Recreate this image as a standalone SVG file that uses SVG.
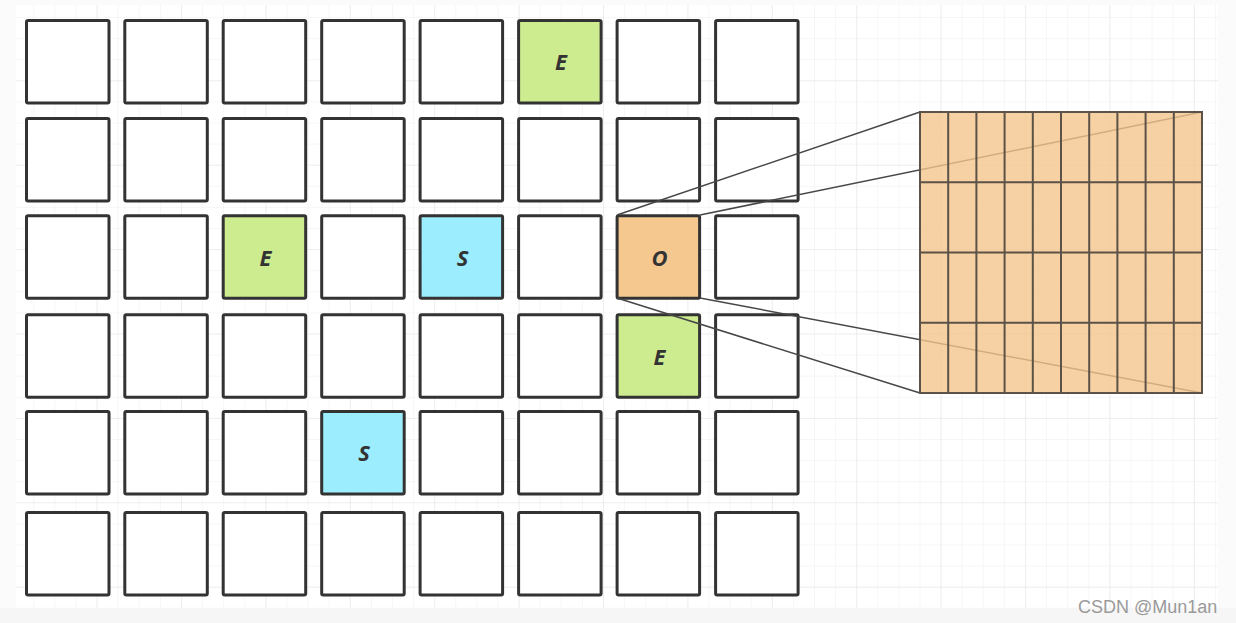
<svg xmlns="http://www.w3.org/2000/svg" width="1236" height="623" viewBox="0 0 1236 623">
  <defs>
    <pattern id="minor" x="12.2" y="-4.1" width="21.1" height="21.1" patternUnits="userSpaceOnUse">
      <path d="M 21.1 0 L 0 0 0 21.1" fill="none" stroke="#eeeeee" stroke-width="1"/>
    </pattern>
    <pattern id="major" x="12.2" y="-4.1" width="84.4" height="84.4" patternUnits="userSpaceOnUse">
      <path d="M 84.4 0 L 0 0 0 84.4" fill="none" stroke="#e6e6e6" stroke-width="1"/>
    </pattern>
  </defs>
  <style>
    .cell { fill: #ffffff; stroke: #333333; stroke-width: 3; }
    .green { fill: #cdeb8f; }
    .blue { fill: #9cedfd; }
    .orange { fill: #f5c890; }
    .lbl { font-family: "Open Sans", "DejaVu Sans", sans-serif; font-weight: bold; font-style: italic; font-size: 22px; fill: #333333; text-anchor: middle; }
    .conn { stroke: #474747; stroke-width: 1.5; fill: none; }
    .zgrid { stroke: #5c5247; stroke-width: 2; fill: none; }
    .wm { font-family: "Liberation Sans", Arial, sans-serif; font-size: 18px; fill: #9a9a9a; }
  </style>

  <!-- background -->
  <rect x="0" y="0" width="1236" height="623" fill="#fbfbfb"/>
  <rect x="0" y="608" width="1236" height="15" fill="#f6f6f6"/>
  <rect x="16" y="5" width="1202" height="603" fill="#ffffff"/>
  <rect x="16" y="5" width="1202" height="603" fill="url(#minor)"/>
  <rect x="16" y="5" width="1202" height="603" fill="url(#major)"/>

  <!-- row 0 -->
  <g id="r0c0"><rect class="cell" x="26.5" y="20.5" width="82.5" height="82.5" rx="1.5"/></g>
  <g id="r0c1"><rect class="cell" x="124.8" y="20.5" width="82.5" height="82.5" rx="1.5"/></g>
  <g id="r0c2"><rect class="cell" x="223.2" y="20.5" width="82.5" height="82.5" rx="1.5"/></g>
  <g id="r0c3"><rect class="cell" x="321.7" y="20.5" width="82.5" height="82.5" rx="1.5"/></g>
  <g id="r0c4"><rect class="cell" x="420.1" y="20.5" width="82.5" height="82.5" rx="1.5"/></g>
  <g id="r0c5"><rect class="cell green" x="518.6" y="20.5" width="82.5" height="82.5" rx="1.5"/><text class="lbl" x="561" y="70">E</text></g>
  <g id="r0c6"><rect class="cell" x="617.1" y="20.5" width="82.5" height="82.5" rx="1.5"/></g>
  <g id="r0c7"><rect class="cell" x="715.6" y="20.5" width="82.5" height="82.5" rx="1.5"/></g>

  <!-- row 1 -->
  <g id="r1c0"><rect class="cell" x="26.5" y="118.5" width="82.5" height="82.5" rx="1.5"/></g>
  <g id="r1c1"><rect class="cell" x="124.8" y="118.5" width="82.5" height="82.5" rx="1.5"/></g>
  <g id="r1c2"><rect class="cell" x="223.2" y="118.5" width="82.5" height="82.5" rx="1.5"/></g>
  <g id="r1c3"><rect class="cell" x="321.7" y="118.5" width="82.5" height="82.5" rx="1.5"/></g>
  <g id="r1c4"><rect class="cell" x="420.1" y="118.5" width="82.5" height="82.5" rx="1.5"/></g>
  <g id="r1c5"><rect class="cell" x="518.6" y="118.5" width="82.5" height="82.5" rx="1.5"/></g>
  <g id="r1c6"><rect class="cell" x="617.1" y="118.5" width="82.5" height="82.5" rx="1.5"/></g>
  <g id="r1c7"><rect class="cell" x="715.6" y="118.5" width="82.5" height="82.5" rx="1.5"/></g>

  <!-- row 2 -->
  <g id="r2c0"><rect class="cell" x="26.5" y="215.8" width="82.5" height="82.5" rx="1.5"/></g>
  <g id="r2c1"><rect class="cell" x="124.8" y="215.8" width="82.5" height="82.5" rx="1.5"/></g>
  <g id="r2c2"><rect class="cell green" x="223.2" y="215.8" width="82.5" height="82.5" rx="1.5"/><text class="lbl" x="265.5" y="265.5">E</text></g>
  <g id="r2c3"><rect class="cell" x="321.7" y="215.8" width="82.5" height="82.5" rx="1.5"/></g>
  <g id="r2c4"><rect class="cell blue" x="420.1" y="215.8" width="82.5" height="82.5" rx="1.5"/><text class="lbl" x="462.5" y="265.5">S</text></g>
  <g id="r2c5"><rect class="cell" x="518.6" y="215.8" width="82.5" height="82.5" rx="1.5"/></g>
  <g id="r2c6"><rect class="cell orange" x="617.1" y="215.8" width="82.5" height="82.5" rx="1.5"/><text class="lbl" x="659.5" y="265.5">O</text></g>
  <g id="r2c7"><rect class="cell" x="715.6" y="215.8" width="82.5" height="82.5" rx="1.5"/></g>

  <!-- row 3 -->
  <g id="r3c0"><rect class="cell" x="26.5" y="314.8" width="82.5" height="82.5" rx="1.5"/></g>
  <g id="r3c1"><rect class="cell" x="124.8" y="314.8" width="82.5" height="82.5" rx="1.5"/></g>
  <g id="r3c2"><rect class="cell" x="223.2" y="314.8" width="82.5" height="82.5" rx="1.5"/></g>
  <g id="r3c3"><rect class="cell" x="321.7" y="314.8" width="82.5" height="82.5" rx="1.5"/></g>
  <g id="r3c4"><rect class="cell" x="420.1" y="314.8" width="82.5" height="82.5" rx="1.5"/></g>
  <g id="r3c5"><rect class="cell" x="518.6" y="314.8" width="82.5" height="82.5" rx="1.5"/></g>
  <g id="r3c6"><rect class="cell green" x="617.1" y="314.8" width="82.5" height="82.5" rx="1.5"/><text class="lbl" x="659.5" y="364.5">E</text></g>
  <g id="r3c7"><rect class="cell" x="715.6" y="314.8" width="82.5" height="82.5" rx="1.5"/></g>

  <!-- row 4 -->
  <g id="r4c0"><rect class="cell" x="26.5" y="411.5" width="82.5" height="82.5" rx="1.5"/></g>
  <g id="r4c1"><rect class="cell" x="124.8" y="411.5" width="82.5" height="82.5" rx="1.5"/></g>
  <g id="r4c2"><rect class="cell" x="223.2" y="411.5" width="82.5" height="82.5" rx="1.5"/></g>
  <g id="r4c3"><rect class="cell blue" x="321.7" y="411.5" width="82.5" height="82.5" rx="1.5"/><text class="lbl" x="364" y="461.2">S</text></g>
  <g id="r4c4"><rect class="cell" x="420.1" y="411.5" width="82.5" height="82.5" rx="1.5"/></g>
  <g id="r4c5"><rect class="cell" x="518.6" y="411.5" width="82.5" height="82.5" rx="1.5"/></g>
  <g id="r4c6"><rect class="cell" x="617.1" y="411.5" width="82.5" height="82.5" rx="1.5"/></g>
  <g id="r4c7"><rect class="cell" x="715.6" y="411.5" width="82.5" height="82.5" rx="1.5"/></g>

  <!-- row 5 -->
  <g id="r5c0"><rect class="cell" x="26.5" y="512.5" width="82.5" height="82.5" rx="1.5"/></g>
  <g id="r5c1"><rect class="cell" x="124.8" y="512.5" width="82.5" height="82.5" rx="1.5"/></g>
  <g id="r5c2"><rect class="cell" x="223.2" y="512.5" width="82.5" height="82.5" rx="1.5"/></g>
  <g id="r5c3"><rect class="cell" x="321.7" y="512.5" width="82.5" height="82.5" rx="1.5"/></g>
  <g id="r5c4"><rect class="cell" x="420.1" y="512.5" width="82.5" height="82.5" rx="1.5"/></g>
  <g id="r5c5"><rect class="cell" x="518.6" y="512.5" width="82.5" height="82.5" rx="1.5"/></g>
  <g id="r5c6"><rect class="cell" x="617.1" y="512.5" width="82.5" height="82.5" rx="1.5"/></g>
  <g id="r5c7"><rect class="cell" x="715.6" y="512.5" width="82.5" height="82.5" rx="1.5"/></g>

  <!-- connectors -->
  <g id="connectors">
    <line class="conn" x1="617" y1="215" x2="920" y2="112"/>
    <line class="conn" x1="700" y1="215" x2="1202" y2="112"/>
    <line class="conn" x1="700" y1="298" x2="1202" y2="393"/>
    <line class="conn" x1="617" y1="298" x2="920" y2="393"/>
  </g>

  <!-- zoomed grid -->
  <g id="zoom">
    <rect x="920" y="112" width="282" height="281" fill="#f3c68c" fill-opacity="0.8"/>
    <path class="zgrid" d="M948.2 112V393M976.4 112V393M1004.6 112V393M1032.8 112V393M1061 112V393M1089.2 112V393M1117.4 112V393M1145.6 112V393M1173.8 112V393M920 182.3H1202M920 252.5H1202M920 322.8H1202"/>
    <rect class="zgrid" x="920" y="112" width="282" height="281"/>
  </g>

  <text class="wm" x="1078" y="613">CSDN @Mun1an</text>
</svg>
